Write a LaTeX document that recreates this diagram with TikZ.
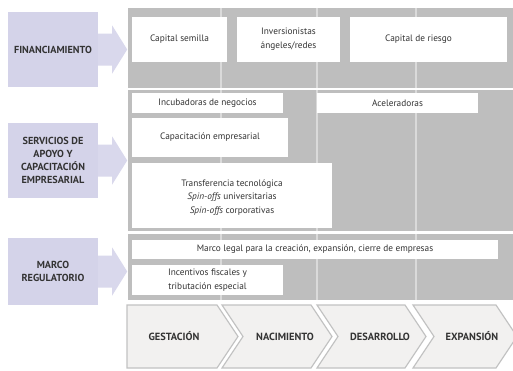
\documentclass[tikz,border=0pt]{standalone}
\usepackage{fontspec}
\setmainfont{PT Sans}
\usetikzlibrary{calc}
\definecolor{panelgray}{HTML}{BEBEBE}
\definecolor{sepline}{HTML}{DADADA}
\definecolor{lav}{HTML}{D4D3E9}
\definecolor{lavarrow}{HTML}{D9D8EC}
\definecolor{chevfill}{HTML}{F2F1F0}
\definecolor{chevline}{HTML}{C2C2C2}
\definecolor{txt}{HTML}{333333}
\begin{document}
\begin{tikzpicture}[x=1pt,y=-1pt,
  wbox/.style={fill=white, text=txt, font=\fontsize{9.3}{13.8}\selectfont, align=center, inner sep=0pt},
  headbox/.style={fill=lav, text=txt, font=\bfseries\fontsize{10.2}{13}\selectfont, align=center, inner sep=0pt, minimum width=90pt},
  chevtext/.style={text=txt, font=\bfseries\fontsize{10.4}{12}\selectfont, inner sep=0pt},
  chev/.style={fill=chevfill, draw=chevline, line width=1.2pt, line join=miter},
  sep/.style={draw=sepline, line width=1.2pt},
  tiptxt/.style={text=txt, font=\fontsize{9.3}{13.8}\selectfont, align=center, inner sep=0pt}
]
\useasboundingbox (0,0) rectangle (513,370);
\fill[white] (0,0) rectangle (513,370);

% gray panels
\fill[panelgray] (128,8) rectangle (513,88);
\fill[panelgray] (128,90) rectangle (513,231);
\fill[panelgray] (128,234) rectangle (513,300);
\foreach \x in {221,317,416}{
  \draw[sep] (\x,8) -- (\x,88);
  \draw[sep] (\x,90) -- (\x,231);
  \draw[sep] (\x,234) -- (\x,300);
}

% left header boxes
\node[headbox, minimum height=75pt] (fin) at (53,49.5) {FINANCIAMIENTO};
\node[headbox, minimum height=75pt] (serv) at (53,160.5) {SERVICIOS DE\\APOYO Y\\CAPACITACIÓN\\EMPRESARIAL};
\node[headbox, minimum height=67pt] (marco) at (53,271.5) {MARCO\\REGULATORIO};

% arrows
\foreach \n in {fin,serv,marco}{
  \fill[lavarrow] ($(\n.east)+(0,-16)$) -- ++(14,0) -- ++(0,-8) -- ($(\n.east)+(29,0)$)
     -- ($(\n.east)+(14,24)$) -- ++(0,-8) -- ($(\n.east)+(0,16)$) -- cycle;
}

% row 1
\node[wbox, minimum width=95pt, minimum height=45pt] (semilla) at (179.5,39.5) {Capital semilla};
\node[wbox, minimum width=103pt, minimum height=45pt] (angeles) at (288.5,39.5) {Inversionistas\\ángeles/redes};
\node[wbox, minimum width=157pt, minimum height=45pt] (riesgo) at (428.5,39.5) {};
\node[tiptxt] (riesgot) at ($(riesgo.center)+(-10,0)$) {Capital de riesgo};

% row 2
\node[wbox, minimum width=151pt, minimum height=20pt] (incub) at (207.5,103) {Incubadoras de negocios};
\node[wbox, minimum width=161pt, minimum height=20pt] (acel) at (397.5,103) {Aceleradoras};
\node[wbox, minimum width=156pt, minimum height=39pt] (capac) at (210,137.5) {Capacitación empresarial};
\node[wbox, minimum width=200pt, minimum height=65pt] (transf) at (232,195.5) {};
\node[tiptxt] (transft) at ($(transf.center)+(0,2)$)
  {Transferencia tecnológica\\\textit{Spin-offs} universitarias\\\textit{Spin-offs} corporativas};

% row 3
\node[wbox, minimum width=366pt, minimum height=19pt] (legal) at (315,249.5) {Marco legal para la creación, expansión, cierre de empresas};
\node[wbox, minimum width=151pt, minimum height=30pt] (incent) at (207.5,280) {Incentivos fiscales y\\tributación especial};

% chevrons
\def\ct{305}\def\cb{368}\def\cm{336.5}
\draw[chev] (127,\ct) -- (217,\ct) -- (238,\cm) -- (217,\cb) -- (127,\cb) -- cycle;
\draw[chev] (222,\ct) -- (311,\ct) -- (332,\cm) -- (311,\cb) -- (222,\cb) -- (243,\cm) -- cycle;
\draw[chev] (317,\ct) -- (405,\ct) -- (426,\cm) -- (405,\cb) -- (317,\cb) -- (338,\cm) -- cycle;
\draw[chev] (413,\ct) -- (496,\ct) -- (517,\cm) -- (496,\cb) -- (413,\cb) -- (434,\cm) -- cycle;
\node[chevtext] (gest) at (174,\cm) {GESTACIÓN};
\node[chevtext] (nac) at (285,\cm) {NACIMIENTO};
\node[chevtext] (des) at (380,\cm) {DESARROLLO};
\node[chevtext] (exp) at (472,\cm) {EXPANSIÓN};
\end{tikzpicture}
\end{document}
